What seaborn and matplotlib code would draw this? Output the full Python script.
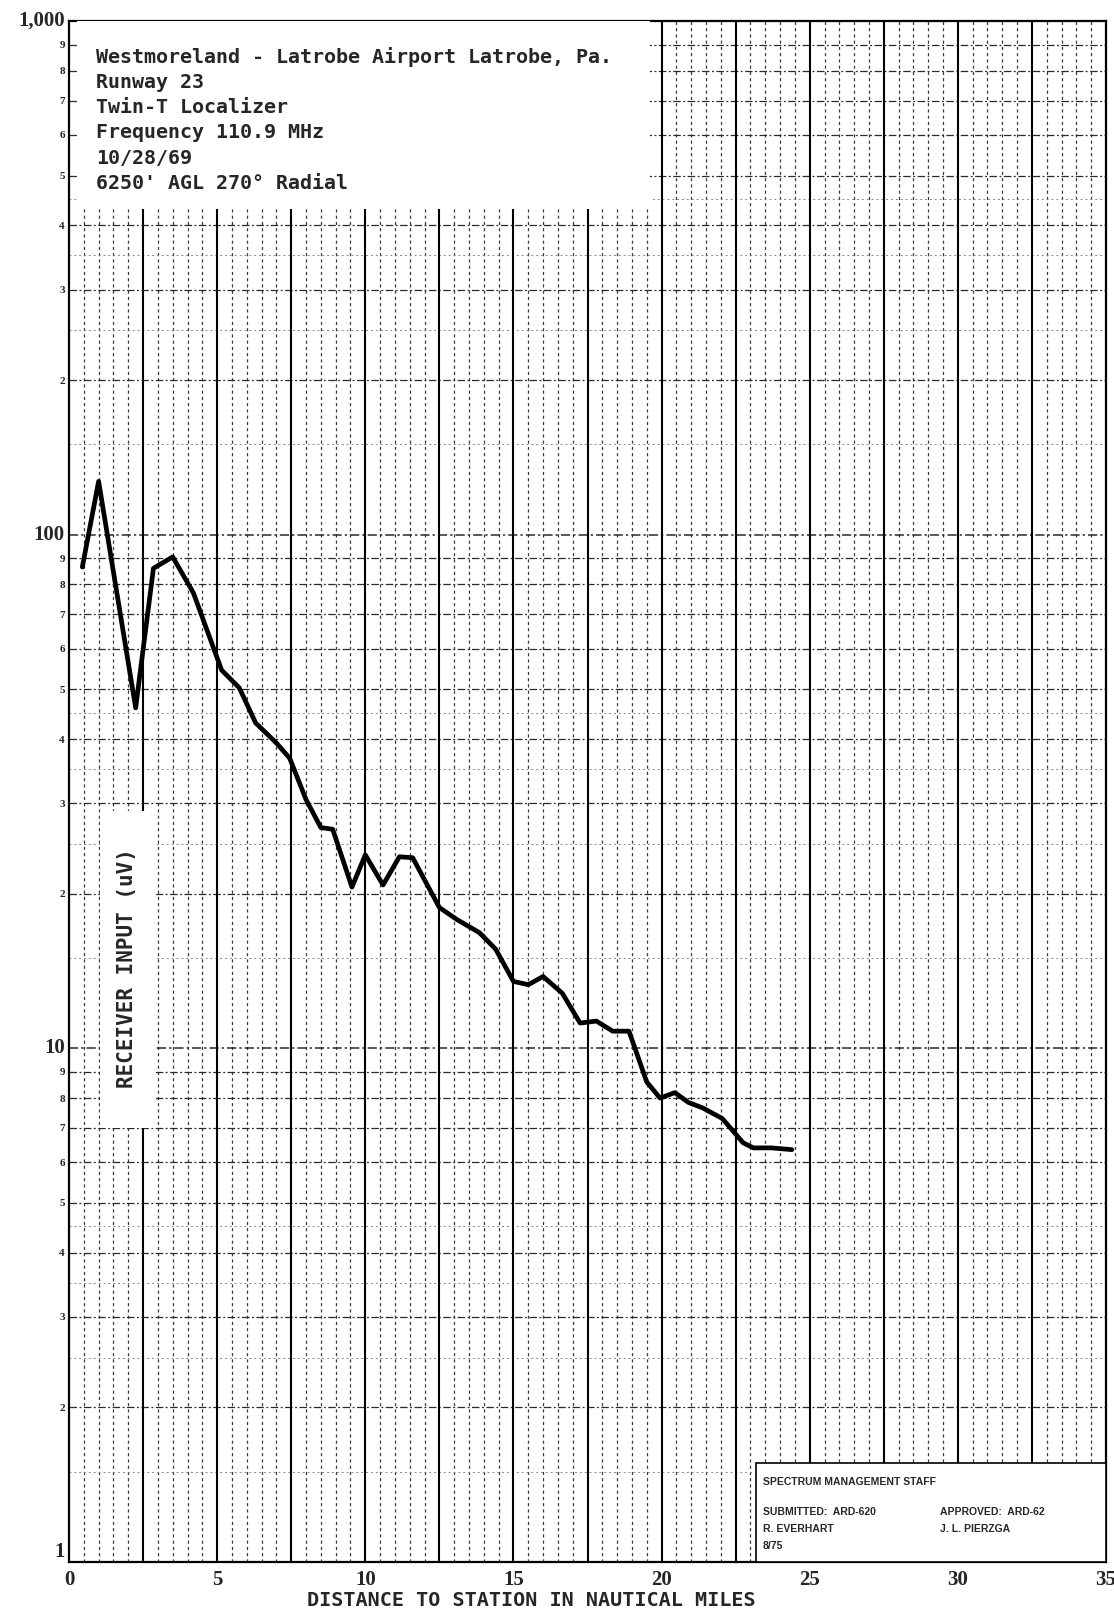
import numpy as np
import pandas as pd
import seaborn as sns
import matplotlib
matplotlib.use("Agg")
import matplotlib.pyplot as plt
from matplotlib.patches import Rectangle
from matplotlib.ticker import NullLocator

# ---------------- data ----------------
distance_nm = [0.45, 1.0, 2.25, 2.85, 3.5, 4.2, 5.15, 5.75, 6.3, 7.0, 7.45, 8.0,
               8.5, 8.9, 9.55, 10.0, 10.6, 11.15, 11.6, 12.5, 13.1, 13.85, 14.4,
               15.0, 15.5, 16.0, 16.65, 17.25, 17.8, 18.35, 18.9, 19.5, 19.95,
               20.45, 20.9, 21.4, 22.05, 22.75, 23.1, 23.7, 24.4]
receiver_uv = [86.5, 127, 46, 86, 90.5, 77, 54.5, 50.3, 43, 39.3, 36.7, 30.5,
               26.9, 26.7, 20.6, 23.8, 20.8, 23.6, 23.5, 18.8, 17.8, 16.8, 15.6,
               13.5, 13.3, 13.8, 12.8, 11.2, 11.3, 10.8, 10.8, 8.6, 8.0,
               8.2, 7.85, 7.65, 7.3, 6.55, 6.4, 6.4, 6.35]

x_tick_values = [0, 5, 10, 15, 20, 25, 30, 35]
x_tick_labels = ["0", "5", "10", "15", "20", "25", "30", "35"]
decade_values = [1, 10, 100, 1000]
decade_labels = ["1", "10", "100", "1,000"]
digit_multipliers = [2, 3, 4, 5, 6, 7, 8, 9]

title_lines = ["Westmoreland - Latrobe Airport Latrobe, Pa.",
               "Runway 23",
               "Twin-T Localizer",
               "Frequency 110.9 MHz",
               "10/28/69",
               "6250' AGL 270\u00b0 Radial"]
stamp_header = "SPECTRUM MANAGEMENT STAFF"
stamp_left = ["SUBMITTED:  ARD-620", "R. EVERHART", "8/75"]
stamp_right = ["APPROVED:  ARD-62", "J. L. PIERZGA"]
x_label = "DISTANCE TO STATION IN NAUTICAL MILES"
y_label = "RECEIVER INPUT (uV)"

df = pd.DataFrame({"distance": distance_nm, "uv": receiver_uv})

# ---------------- style ----------------
sns.set_style("white")
plt.rcParams['font.family'] = ['DejaVu Sans Mono', 'DejaVu Sans']

W, H = 1114, 1616
fig = plt.figure(figsize=(W / 100, H / 100), dpi=100)
fig.patch.set_facecolor("white")
ax = fig.add_axes([69 / W, 54 / H, (1106 - 69) / W, (1562 - 21) / H])

ax.set_yscale("log")
ax.set_xlim(0, 35)
ax.set_ylim(1, 1000)

# grid (printed semi-log paper look)
for v in np.arange(0.5, 35, 0.5):
    if abs(v / 2.5 - round(v / 2.5)) > 1e-6:
        ax.axvline(v, color="#3a3a3a", lw=0.9, ls=(0, (2.5, 2.5)), zorder=1)
for v in np.arange(2.5, 35, 2.5):
    ax.axvline(v, color="black", lw=1.5, zorder=1.5)
for d in [1, 10, 100]:
    for m in range(1, 10):
        val = d * m
        if val > 1:
            ax.axhline(val, color="#2a2a2a", lw=1.1 if m == 1 else 0.9,
                       ls=(0, (6, 2, 1.5, 2)), zorder=1)
    for m in [1.5, 2.5, 3.5, 4.5]:
        ax.axhline(d * m, color="#888888", lw=0.7, ls=(0, (2, 3)), zorder=1)

# white label boxes
ax.add_patch(Rectangle((0.27, 430), 19.35, 570, facecolor="white",
                       edgecolor="none", zorder=3))
ax.add_patch(Rectangle((1.05, 7), 1.9, 22, facecolor="white",
                       edgecolor="none", zorder=3))
ax.add_patch(Rectangle((23.2, 1), 11.8, 0.56, facecolor="white",
                       edgecolor="black", lw=1.2, zorder=3))

# curve
sns.lineplot(data=df, x="distance", y="uv", ax=ax, color="black", lw=3.4,
             zorder=4, estimator=None)

# axes ticks
ax.set_xticks(x_tick_values)
ax.set_xticklabels(x_tick_labels)
yvals = list(decade_values)
ylabs = list(decade_labels)
for d in [1, 10, 100]:
    for m in digit_multipliers:
        yvals.append(d * m)
        ylabs.append(str(m))
ax.set_yticks(yvals)
ax.set_yticklabels(ylabs)
ax.yaxis.set_minor_locator(NullLocator())
ax.xaxis.set_minor_locator(NullLocator())
ax.tick_params(axis="both", length=0)
ax.tick_params(axis="x", pad=6)
ax.tick_params(axis="y", pad=3)
for lab in ax.get_xticklabels():
    lab.set_fontfamily("Liberation Serif")
    lab.set_fontweight("bold")
    lab.set_fontsize(15)
for lab in ax.get_yticklabels():
    lab.set_fontfamily("Liberation Serif")
    lab.set_fontweight("bold")
    t = lab.get_text()
    if t in decade_labels:
        lab.set_fontsize(15)
        lab.set_verticalalignment("bottom" if t == "1" else "center")
    else:
        lab.set_fontsize(8)

ax.set_xlabel("")
ax.set_ylabel("")
for s in ax.spines.values():
    s.set_color("black")
    s.set_linewidth(1.6)
    s.set_visible(True)

# texts
for i, line in enumerate(title_lines):
    fig.text(96 / W, 1 - (57 + i * 25.3) / H, line, fontsize=14.4,
             fontweight="bold", ha="left", va="center",
             family="DejaVu Sans Mono", zorder=5)

ax.text(1.95, 14.3, y_label, rotation=90, fontsize=15, fontweight="bold",
        family="DejaVu Sans Mono", ha="center", va="center", zorder=5)

fig.text(531 / W, 1 - 1600 / H, x_label, fontsize=14.5, fontweight="bold",
         family="DejaVu Sans Mono", ha="center", va="center")

fig.text(763 / W, 1 - 1482 / H, stamp_header, fontsize=7.5, fontweight="bold",
         family="Liberation Sans", ha="left", va="center")
for i, line in enumerate(stamp_left):
    fig.text(763 / W, 1 - (1512 + i * 17) / H, line, fontsize=7.5,
             fontweight="bold", family="Liberation Sans", ha="left", va="center")
for i, line in enumerate(stamp_right):
    fig.text(940 / W, 1 - (1512 + i * 17) / H, line, fontsize=7.5,
             fontweight="bold", family="Liberation Sans", ha="left", va="center")

fig.savefig("out.png", dpi=100, facecolor="white")
